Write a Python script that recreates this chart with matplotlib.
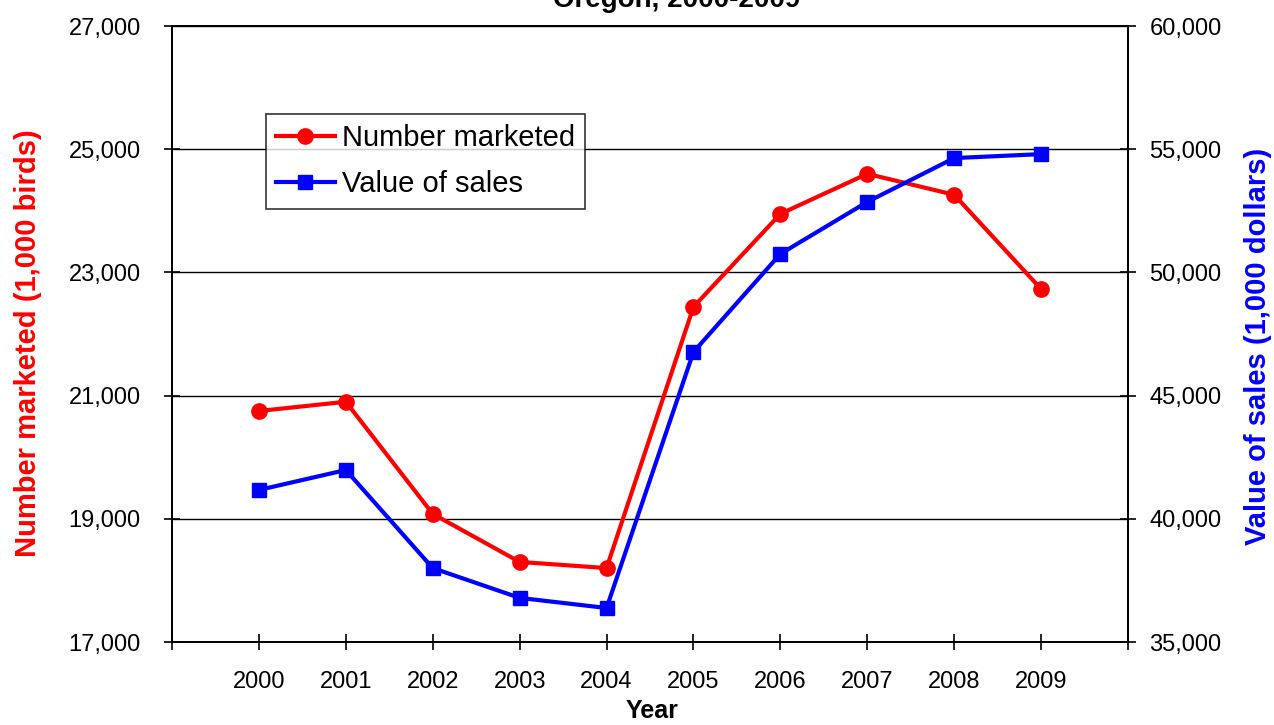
import matplotlib
matplotlib.use("Agg")
import matplotlib.pyplot as plt
from matplotlib.ticker import FuncFormatter, FixedLocator

plt.rcParams['font.family'] = ['Liberation Sans', 'DejaVu Sans']

# data
years = [2000, 2001, 2002, 2003, 2004, 2005, 2006, 2007, 2008, 2009]
number_marketed = [20750, 20900, 19080, 18300, 18200, 22440, 23950, 24600, 24260, 22730]
value_of_sales = [41170, 41980, 38000, 36790, 36380, 46770, 50750, 52860, 54640, 54800]

fig = plt.figure(figsize=(12.74, 7.25), dpi=100)
ax = fig.add_axes([172 / 1274, 83 / 725, 956 / 1274, 616 / 725])
ax2 = ax.twinx()

l1, = ax.plot(years, number_marketed, color='#FF0000', lw=3, marker='o', ms=11,
              label='Number marketed', zorder=3)
l2, = ax2.plot(years, value_of_sales, color='#0000FF', lw=3, marker='s', ms=10,
               label='Value of sales', zorder=3)

ax.set_xlim(1999, 2010)
ax.set_ylim(17000, 27000)
ax2.set_ylim(35000, 60000)
ax.set_yticks(range(17000, 27001, 2000))
ax2.set_yticks(range(35000, 60001, 5000))
ax.set_xticks(years)
ax.xaxis.set_minor_locator(FixedLocator([1999, 2010]))

fmt = FuncFormatter(lambda v, p: '{:,.0f}'.format(v))
ax.yaxis.set_major_formatter(fmt)
ax2.yaxis.set_major_formatter(fmt)

ax.grid(axis='y', color='black', lw=1)
ax.set_axisbelow(True)

ax.tick_params(axis='y', direction='inout', length=11, width=1.2, pad=17, labelsize=17)
ax2.tick_params(axis='y', direction='inout', length=11, width=1.2, pad=10, labelsize=17)
ax.tick_params(axis='x', which='both', direction='inout', length=12, width=1.2,
               pad=15, labelsize=17)

for a in (ax, ax2):
    for s in a.spines.values():
        s.set_color('black')
        s.set_linewidth(1.3)

ax.set_ylabel('Number marketed (1,000 birds)', color='#FF0000', fontsize=21,
              fontweight='bold')
ax.yaxis.set_label_coords(-0.136, 0.485)
ax2.set_ylabel('Value of sales (1,000 dollars)', color='#0000FF', fontsize=21,
               fontweight='bold', rotation=90)
ax2.yaxis.set_label_coords(1.121, 0.48)
ax.set_xlabel('Year', fontsize=18, fontweight='bold')
ax.xaxis.set_label_coords(0.502, -0.092)

fig.text(677 / 1274, 1 - 7 / 725, 'Oregon, 2000-2009', ha='center', va='baseline',
         fontsize=20, fontweight='bold')

leg = ax2.legend(handles=[l1, l2], loc='upper left',
                 bbox_to_anchor=((266 - 172) / 956, (642 - 114) / 616),
                 fontsize=21, frameon=True, fancybox=False, edgecolor='black',
                 borderpad=0.35, labelspacing=0.62, handlelength=2.0,
                 handletextpad=0.25, borderaxespad=0)
leg.get_frame().set_linewidth(1.2)

fig.savefig('out.png', dpi=100)
